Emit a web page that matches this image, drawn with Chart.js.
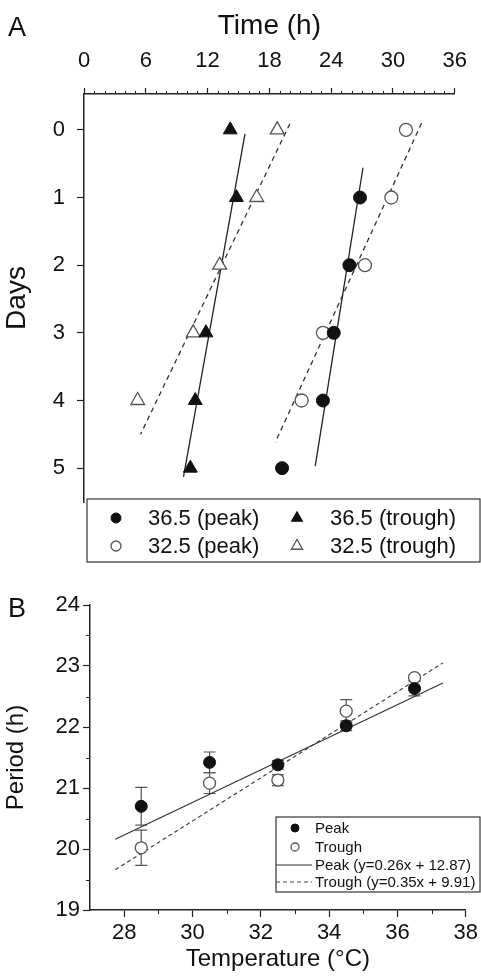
<!DOCTYPE html>
<html>
<head>
<meta charset="utf-8">
<script src="https://cdn.jsdelivr.net/npm/chart.js@4.4.1/dist/chart.umd.min.js"></script>
<style>
  body { margin: 0; background: #fff; }
  #wrapA { position: absolute; left: 0; top: 0; width: 481px; height: 580px; }
  #wrapB { position: absolute; left: 0; top: 580px; width: 481px; height: 398px; }
</style>
</head>
<body>
<div id="wrapA"><canvas id="chartA" width="481" height="580"></canvas></div>
<div id="wrapB"><canvas id="chartB" width="481" height="398"></canvas></div>
<script>
// Painel A - horario do pico / vale por dia
var ticksTempo = [0, 6, 12, 18, 24, 30, 36];
var ticksDias = [0, 1, 2, 3, 4, 5];

var diasPico365 = [1, 2, 3, 4, 5];
var horasPico365 = [26.8, 25.77, 24.25, 23.2, 19.23];
var diasVale365 = [0, 1, 3, 4, 5];
var horasVale365 = [14.2, 14.8, 11.84, 10.8, 10.33];
var diasPico325 = [0, 1, 2, 3, 4];
var horasPico325 = [31.26, 29.84, 27.28, 23.2, 21.13];
var diasVale325 = [0, 1, 2, 3, 4];
var horasVale325 = [18.76, 16.77, 13.17, 10.61, 5.21];

// retas ajustadas [hora, dia]
var retaPico365 = [[27.09, 0.56], [22.45, 4.97]];
var retaVale365 = [[15.63, 0.06], [9.66, 5.13]];
var retaPico325 = [[32.78, -0.1], [18.57, 4.62]];
var retaVale325 = [[19.99, -0.09], [5.49, 4.5]];

// Painel B - periodo x temperatura
var temperaturas = [28.5, 30.5, 32.5, 34.5, 36.5];
var periodoPico = [20.7, 21.42, 21.38, 22.02, 22.63];
var erroPico = [0.31, 0.17, 0.07, 0.08, 0.12];
var periodoVale = [20.02, 21.08, 21.13, 22.26, 22.81];
var erroVale = [0.29, 0.17, 0.09, 0.19, 0.05];
var retaPico = [[27.74, 20.16], [37.33, 22.72]];
var retaVale = [[27.74, 19.66], [37.33, 23.05]];
var ticksTemp = [28, 30, 32, 34, 36, 38];
var ticksPeriodo = [19, 20, 21, 22, 23, 24];

var fonte = '"Liberation Sans", Arial, sans-serif';
Chart.defaults.font.family = fonte;
Chart.defaults.color = '#111';

function pontos(xs, ys) {
    return xs.map(function (x, i) { return { x: x, y: ys[i] }; });
}
function linha(pts) {
    return pts.map(function (p) { return { x: p[0], y: p[1] }; });
}
function fixarTicks(valores) {
    return function (s) {
        s.ticks = valores.map(function (v) { return { value: v }; });
    };
}

// ticks menores (o chart.js so tem um tamanho de tick)
function pluginTicksMenores(eixos) {
    return {
        id: 'ticksMenores',
        afterDraw: function (chart) {
            var ctx = chart.ctx;
            ctx.save();
            ctx.strokeStyle = '#222';
            ctx.lineWidth = 1;
            eixos.forEach(function (e) {
                var s = chart.scales[e.id];
                e.valores.forEach(function (v) {
                    var p = Math.round(s.getPixelForValue(v)) + 0.5;
                    ctx.beginPath();
                    if (s.position === 'top') {
                        ctx.moveTo(p, s.bottom); ctx.lineTo(p, s.bottom - e.tam);
                    } else if (s.position === 'bottom') {
                        ctx.moveTo(p, s.top); ctx.lineTo(p, s.top + e.tam);
                    } else {
                        ctx.moveTo(s.right, p); ctx.lineTo(s.right - e.tam, p);
                    }
                    ctx.stroke();
                });
            });
            ctx.restore();
        }
    };
}

// legenda dentro de uma caixa
function pluginLegenda(cfg) {
    return {
        id: 'legendaCaixa',
        afterDraw: function (chart) {
            var ctx = chart.ctx;
            var c = cfg.caixa;
            ctx.save();
            ctx.fillStyle = '#fff';
            ctx.fillRect(c[0], c[1], c[2] - c[0], c[3] - c[1]);
            ctx.strokeStyle = '#333';
            ctx.lineWidth = 1.2;
            ctx.strokeRect(c[0], c[1], c[2] - c[0], c[3] - c[1]);
            ctx.font = cfg.fonte;
            ctx.textBaseline = 'middle';
            ctx.textAlign = 'left';
            cfg.itens.forEach(function (it) {
                var ds = chart.data.datasets[it.ds];
                if (ds.showLine) {
                    ctx.strokeStyle = ds.borderColor;
                    ctx.lineWidth = ds.borderWidth;
                    ctx.setLineDash(ds.borderDash || []);
                    ctx.beginPath();
                    ctx.moveTo(it.x0, it.y);
                    ctx.lineTo(it.x1, it.y);
                    ctx.stroke();
                    ctx.setLineDash([]);
                } else {
                    ctx.fillStyle = ds.backgroundColor;
                    ctx.strokeStyle = ds.borderColor;
                    ctx.lineWidth = ds.borderWidth;
                    Chart.helpers.drawPoint(ctx, { pointStyle: ds.pointStyle, radius: it.r, rotation: 0, borderWidth: ds.borderWidth }, it.x, it.y);
                }
                ctx.fillStyle = '#111';
                ctx.fillText(it.texto || ds.label, it.tx, it.y + 1);
            });
            ctx.restore();
        }
    };
}

function pluginLetra(letra, x, y) {
    return {
        id: 'letraPainel',
        afterDraw: function (chart) {
            var ctx = chart.ctx;
            ctx.save();
            ctx.font = '27px ' + fonte;
            ctx.fillStyle = '#111';
            ctx.textBaseline = 'alphabetic';
            ctx.fillText(letra, x, y);
            ctx.restore();
        }
    };
}

// barras de erro desenhadas antes dos pontos
function pluginErros(series) {
    return {
        id: 'barrasErro',
        beforeDatasetsDraw: function (chart) {
            var ctx = chart.ctx;
            var xs = chart.scales.x, ys = chart.scales.y;
            ctx.save();
            ctx.strokeStyle = '#555';
            ctx.lineWidth = 1.2;
            series.forEach(function (s) {
                s.xs.forEach(function (xv, i) {
                    var px = xs.getPixelForValue(xv);
                    var y1 = ys.getPixelForValue(s.ys[i] - s.erros[i]);
                    var y2 = ys.getPixelForValue(s.ys[i] + s.erros[i]);
                    ctx.beginPath();
                    ctx.moveTo(px, y1); ctx.lineTo(px, y2);
                    ctx.moveTo(px - 6, y1); ctx.lineTo(px + 6, y1);
                    ctx.moveTo(px - 6, y2); ctx.lineTo(px + 6, y2);
                    ctx.stroke();
                });
            });
            ctx.restore();
        }
    };
}

var minTempo = [];
for (var h = 1; h < 36; h++) { if (h % 6 !== 0) minTempo.push(h); }

var eixoCor = '#222';

new Chart(document.getElementById('chartA'), {
    type: 'scatter',
    data: {
        datasets: [
            { label: '36.5 (peak)', data: pontos(horasPico365, diasPico365), pointStyle: 'circle', pointRadius: 6.5, backgroundColor: '#111', borderColor: '#111', borderWidth: 1 },
            { label: '36.5 (trough)', data: pontos(horasVale365, diasVale365), pointStyle: 'triangle', pointRadius: 8, backgroundColor: '#111', borderColor: '#111', borderWidth: 1 },
            { label: '32.5 (peak)', data: pontos(horasPico325, diasPico325), pointStyle: 'circle', pointRadius: 6.5, backgroundColor: '#fff', borderColor: '#555', borderWidth: 1.3 },
            { label: '32.5 (trough)', data: pontos(horasVale325, diasVale325), pointStyle: 'triangle', pointRadius: 8, backgroundColor: '#fff', borderColor: '#555', borderWidth: 1.3 },
            { label: 'fit 36.5 peak', data: linha(retaPico365), showLine: true, pointRadius: 0, borderColor: '#222', borderWidth: 1.3 },
            { label: 'fit 36.5 trough', data: linha(retaVale365), showLine: true, pointRadius: 0, borderColor: '#222', borderWidth: 1.3 },
            { label: 'fit 32.5 peak', data: linha(retaPico325), showLine: true, pointRadius: 0, borderColor: '#333', borderWidth: 1.3, borderDash: [5, 4] },
            { label: 'fit 32.5 trough', data: linha(retaVale325), showLine: true, pointRadius: 0, borderColor: '#333', borderWidth: 1.3, borderDash: [5, 4] }
        ]
    },
    options: {
        responsive: false,
        animation: false,
        layout: { padding: { left: 0, right: 17, top: 0, bottom: 78 } },
        plugins: { legend: { display: false }, tooltip: { enabled: false } },
        scales: {
            x: {
                type: 'linear', position: 'top', min: 0, max: 36,
                afterBuildTicks: fixarTicks(ticksTempo),
                afterFit: function (s) { s.height = 94; },
                grid: { drawOnChartArea: false, tickLength: 6, color: eixoCor, tickWidth: 1.2 },
                border: { color: eixoCor, width: 1.5 },
                ticks: { font: { size: 22 }, color: '#111', padding: 14, maxRotation: 0, autoSkip: false },
                title: { display: true, text: 'Time (h)', font: { size: 28 }, color: '#111', padding: { top: 9, bottom: 0 } }
            },
            y: {
                type: 'linear', reverse: true, min: -0.53, max: 5.5,
                afterBuildTicks: fixarTicks(ticksDias),
                afterFit: function (s) { s.width = 84; },
                grid: { drawOnChartArea: false, tickLength: 7, color: eixoCor, tickWidth: 1.2 },
                border: { color: eixoCor, width: 1.5 },
                ticks: { font: { size: 22 }, color: '#111', padding: 12, autoSkip: false },
                title: { display: true, text: 'Days', font: { size: 28 }, color: '#111', padding: { top: 0, bottom: 0 } }
            }
        }
    },
    plugins: [
        pluginTicksMenores([{ id: 'x', valores: minTempo, tam: 3 }]),
        pluginLetra('A', 8, 36),
        pluginLegenda({
            caixa: [87, 499, 480, 562],
            fonte: '22px ' + fonte,
            itens: [
                { ds: 0, x: 116, y: 518, r: 5, tx: 148 },
                { ds: 1, x: 297, y: 518, r: 6.5, tx: 330 },
                { ds: 2, x: 116, y: 546, r: 5, tx: 148 },
                { ds: 3, x: 297, y: 546, r: 6.5, tx: 330 }
            ]
        })
    ]
});

var minPeriodo = [19.5, 20.5, 21.5, 22.5, 23.5];
var minTemp = [29, 31, 33, 35, 37];

new Chart(document.getElementById('chartB'), {
    type: 'scatter',
    data: {
        datasets: [
            { label: 'Peak', data: pontos(temperaturas, periodoPico), pointStyle: 'circle', pointRadius: 6, backgroundColor: '#111', borderColor: '#111', borderWidth: 1 },
            { label: 'Trough', data: pontos(temperaturas, periodoVale), pointStyle: 'circle', pointRadius: 6, backgroundColor: '#fff', borderColor: '#555', borderWidth: 1.3 },
            { label: 'Peak (y=0.26x + 12.87)', data: linha(retaPico), showLine: true, pointRadius: 0, borderColor: '#333', borderWidth: 1.2 },
            { label: 'Trough (y=0.35x + 9.91)', data: linha(retaVale), showLine: true, pointRadius: 0, borderColor: '#444', borderWidth: 1.2, borderDash: [4, 3] }
        ]
    },
    options: {
        responsive: false,
        animation: false,
        layout: { padding: { left: 0, right: 13, top: 25, bottom: 0 } },
        plugins: { legend: { display: false }, tooltip: { enabled: false } },
        scales: {
            x: {
                type: 'linear', position: 'bottom', min: 27, max: 38,
                afterBuildTicks: fixarTicks(ticksTemp),
                afterFit: function (s) { s.height = 68; },
                grid: { drawOnChartArea: false, tickLength: 7, color: eixoCor, tickWidth: 1.2 },
                border: { color: eixoCor, width: 1.5 },
                ticks: { font: { size: 22 }, color: '#111', padding: 3, maxRotation: 0, autoSkip: false },
                title: { display: true, text: 'Temperature (°C)', font: { size: 24 }, color: '#111', padding: { top: 0, bottom: 4 } }
            },
            y: {
                type: 'linear', min: 19, max: 24,
                afterBuildTicks: fixarTicks(ticksPeriodo),
                afterFit: function (s) { s.width = 90; },
                grid: { drawOnChartArea: false, tickLength: 7, color: eixoCor, tickWidth: 1.2 },
                border: { color: eixoCor, width: 1.5 },
                ticks: { font: { size: 22 }, color: '#111', padding: 3, autoSkip: false },
                title: { display: true, text: 'Period (h)', font: { size: 24 }, color: '#111', padding: { top: 2, bottom: 0 } }
            }
        }
    },
    plugins: [
        pluginTicksMenores([{ id: 'x', valores: minTemp, tam: 4 }, { id: 'y', valores: minPeriodo, tam: 4 }]),
        pluginErros([
            { xs: temperaturas, ys: periodoPico, erros: erroPico },
            { xs: temperaturas, ys: periodoVale, erros: erroVale }
        ]),
        pluginLetra('B', 8, 37),
        pluginLegenda({
            caixa: [276, 237, 480, 312],
            fonte: '15px ' + fonte,
            itens: [
                { ds: 0, x: 295, y: 248, r: 4, tx: 315 },
                { ds: 1, x: 295, y: 267, r: 4, tx: 315 },
                { ds: 2, x0: 276, x1: 312, y: 285, tx: 315 },
                { ds: 3, x0: 276, x1: 312, y: 302, tx: 315 }
            ]
        })
    ]
});
</script>
</body>
</html>
